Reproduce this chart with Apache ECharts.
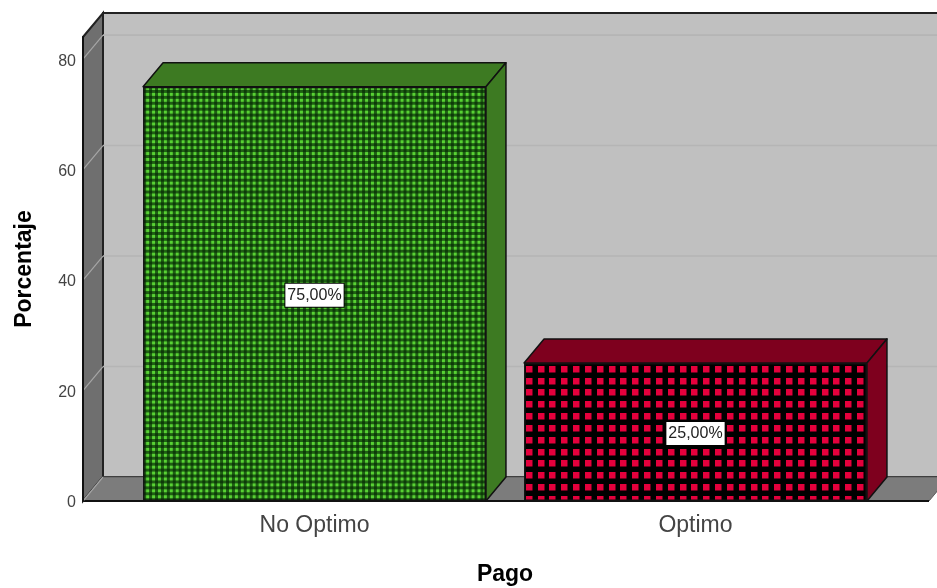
<!DOCTYPE html>
<html>
<head>
<meta charset="utf-8">
<style>html,body{margin:0;padding:0;background:#fff}#c{width:937px;height:588px}</style>
<script src="https://cdn.jsdelivr.net/npm/echarts@6/dist/echarts.min.js"></script>
</head>
<body>
<div id="c"></div>
<script>
const categories = ['No Optimo', 'Optimo'];
const percentages = [75, 25];
const yTicks = [0, 20, 40, 60, 80];
const xName = 'Pago';
const yName = 'Porcentaje';

const FONT = '"Liberation Sans", Arial, sans-serif';
const DX = 20, DY = -24;       // 3D depth offset
const LEFT_PAD = 41, RIGHT_PAD = 43; // frame overhang beyond the category bands
const BAR_RATIO = 0.9;

function tile(period, count, draw) {
  const size = Math.round(period * count);
  const cv = document.createElement('canvas');
  cv.width = cv.height = size;
  draw(cv.getContext('2d'), size, size / count, count);
  return { image: cv, repeat: 'repeat' };
}
const greenFill = tile(5.917, 12, (g, s, p, n) => {
  g.fillStyle = '#58d234'; g.fillRect(0, 0, s, s);
  g.fillStyle = 'rgba(5,40,5,0.68)';
  for (let i = 0; i < n; i++) {
    g.fillRect(i * p + 1.2, 0, p * 0.5, s);
    g.fillRect(0, i * p + 1.2, s, p * 0.5);
  }
});
const redFill = tile(11.833, 6, (g, s, p, n) => {
  g.fillStyle = '#000'; g.fillRect(0, 0, s, s);
  g.fillStyle = '#e4003c';
  const ox = 5.07, oy = 10.7, w = 6.5;
  for (let i = -1; i <= n; i++) for (let j = -1; j <= n; j++) {
    g.fillRect(Math.round(i * p + ox), Math.round(j * p + oy), w, w);
  }
});
const faceFills = [greenFill, redFill];
const sideColors = ['#3d7a22', '#7e001e'];

function renderFrame(params, api) {
  const cs = params.coordSys;
  const l = cs.x - LEFT_PAD, r = cs.x + cs.width + RIGHT_PAD;
  const t = cs.y, b = cs.y + cs.height;
  const edge = '#222';
  return { type: 'group', silent: true, children: [
    { type: 'rect', shape: { x: l + DX, y: t + DY, width: r - l, height: b - t },
      style: { fill: '#c0c0c0', stroke: edge, lineWidth: 2 } },
    { type: 'polygon', shape: { points: [[l, t], [l + DX, t + DY], [l + DX, b + DY], [l, b]] },
      style: { fill: '#6f6f6f', stroke: edge, lineWidth: 2 } },
    { type: 'polygon', shape: { points: [[l, b], [l + DX, b + DY], [r + DX, b + DY], [r, b]] },
      style: { fill: '#7c7c7c', stroke: '#5c5c5c', lineWidth: 1 } },
    { type: 'line', shape: { x1: l, y1: b, x2: r, y2: b }, style: { stroke: '#111', lineWidth: 2 } }
  ]};
}
function renderGrid(params, api) {
  const cs = params.coordSys;
  const v = api.value(0);
  const y = api.coord([0, v])[1];
  const l = cs.x - LEFT_PAD, r = cs.x + cs.width + RIGHT_PAD;
  return { type: 'group', silent: true, children: [
    { type: 'line', shape: { x1: l, y1: y, x2: l + DX, y2: y + DY },
      style: { stroke: '#a6a6a6', lineWidth: 1.2 } },
    v === 0 ? { type: 'group' } :
    { type: 'line', shape: { x1: l + DX, y1: y + DY, x2: r + DX, y2: y + DY },
      style: { stroke: '#b5b5b5', lineWidth: 1.6 } }
  ]};
}
function renderDepth(params, api) {
  const i = api.value(0);
  const top = api.coord([i, api.value(1)]);
  const base = api.coord([i, 0]);
  const w = api.size([1, 0])[0] * BAR_RATIO;
  const x0 = top[0] - w / 2, x1 = top[0] + w / 2, y = top[1], yb = base[1];
  const st = { fill: sideColors[i], stroke: '#111', lineWidth: 1.5, lineJoin: 'round' };
  return { type: 'group', silent: true, children: [
    { type: 'polygon', shape: { points: [[x0, y], [x0 + DX, y + DY], [x1 + DX, y + DY], [x1, y]] }, style: st },
    { type: 'polygon', shape: { points: [[x1, y], [x1 + DX, y + DY], [x1 + DX, yb + DY], [x1, yb]] }, style: st }
  ]};
}

const chart = echarts.init(document.getElementById('c'), null, { renderer: 'canvas' });
chart.setOption({
  animation: false,
  backgroundColor: '#fff',
  grid: { left: 124, top: 37, width: 762, height: 464, outerBoundsMode: 'none', containLabel: false },
  xAxis: {
    type: 'category', data: categories,
    name: xName, nameLocation: 'middle', nameGap: 62,
    nameTextStyle: { fontFamily: FONT, fontWeight: 'bold', fontSize: 23, color: '#000' },
    axisLine: { show: false }, axisTick: { show: false },
    axisLabel: { fontFamily: FONT, fontSize: 23, color: '#444', margin: 13 },
    z: 20
  },
  yAxis: {
    type: 'value', min: 0, max: 84, offset: 41,
    name: yName, nameLocation: 'middle', nameGap: 47,
    nameTextStyle: { fontFamily: FONT, fontWeight: 'bold', fontSize: 23, color: '#000' },
    axisLine: { show: true, lineStyle: { color: '#111', width: 2 } },
    axisTick: { show: false },
    axisLabel: {
      customValues: yTicks, margin: 7, formatter: '{t|{value}}',
      rich: { t: { fontFamily: FONT, fontSize: 16, color: '#444', padding: [4, 0, 0, 0] } }
    },
    splitLine: { show: false },
    z: 20
  },
  series: [
    { type: 'custom', coordinateSystem: 'cartesian2d', z: 1, clip: false, silent: true,
      data: [[0]], encode: { x: 0 }, renderItem: renderFrame, tooltip: { show: false } },
    { type: 'custom', coordinateSystem: 'cartesian2d', z: 2, clip: false, silent: true,
      data: yTicks.map(v => [v]), encode: { y: 0 }, renderItem: renderGrid },
    { type: 'custom', coordinateSystem: 'cartesian2d', z: 3, clip: false, silent: true,
      data: percentages.map((v, i) => [i, v]), encode: { x: 0, y: 1 }, renderItem: renderDepth },
    { type: 'bar', z: 4, barWidth: (BAR_RATIO * 100) + '%',
      data: percentages.map((v, i) => ({
        value: v,
        itemStyle: { color: faceFills[i], borderColor: '#111', borderWidth: 1.5 }
      })),
      label: {
        show: true, position: 'inside', offset: [0, 1.5],
        formatter: p => p.value.toFixed(2).replace('.', ',') + '%',
        fontFamily: FONT, fontSize: 16, color: '#222',
        backgroundColor: '#fff', borderColor: '#000', borderWidth: 1,
        padding: [4, 2, 3, 2]
      }
    }
  ]
});
</script>
</body>
</html>
